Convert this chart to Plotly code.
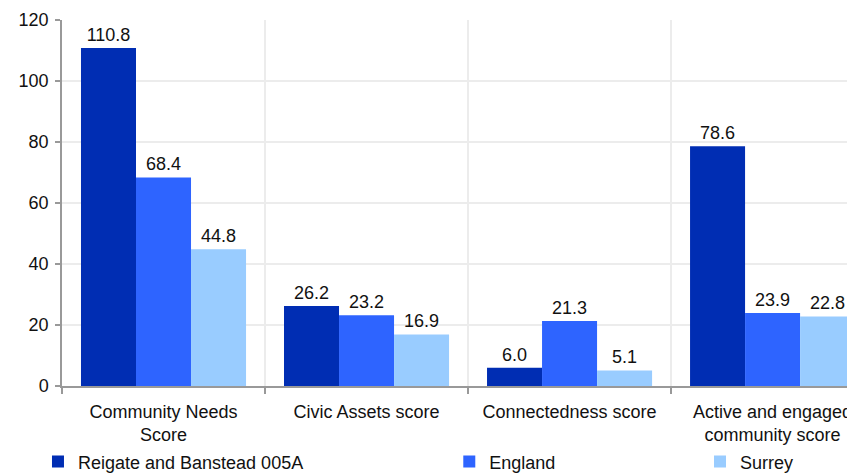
import plotly.graph_objects as go

categories = ["Community Needs<br>Score", "Civic Assets score", "Connectedness score", "Active and engaged<br>community score"]
series_names = ["Reigate and Banstead 005A", "England", "Surrey"]
reigate = [110.8, 26.2, 6.0, 78.6]
england = [68.4, 23.2, 21.3, 23.9]
surrey = [44.8, 16.9, 5.1, 22.8]
colors = ["#002db3", "#2e64ff", "#99ccff"]
y_ticks = [0, 20, 40, 60, 80, 100, 120]

FONT = "Liberation Sans, Arial, sans-serif"
FS = 18

fig = go.Figure()
legend_ids = ["legend", "legend2", "legend3"]
for name, vals, col, lg in zip(series_names, [reigate, england, surrey], colors, legend_ids):
    fig.add_trace(go.Bar(
        x=categories, y=vals, name=name, marker=dict(color=col, line=dict(width=0)),
        text=vals, texttemplate="%{y:.1f}", textposition="outside",
        textfont=dict(family=FONT, size=FS, color="#111"), cliponaxis=False,
        legend=lg, showlegend=True,
    ))

leg_common = dict(orientation="h", xref="container", yref="container", yanchor="middle", y=0.024,
                  xanchor="left", font=dict(family=FONT, size=FS, color="#111"),
                  bgcolor="rgba(0,0,0,0)")
fig.update_layout(
    width=847, height=465,
    margin=dict(l=54, r=0, t=12, b=87),
    paper_bgcolor="white", plot_bgcolor="white",
    showlegend=True,
    barmode="group", bargap=0.187, bargroupgap=0,
    font=dict(family=FONT, size=FS, color="#111"),
    legend=dict(x=0.0354, **leg_common),
    legend2=dict(x=0.521, **leg_common),
    legend3=dict(x=0.817, **leg_common),
    xaxis=dict(
        range=[-0.5, 3.406], tickson="boundaries", showgrid=True, gridcolor="#ececec", gridwidth=1.5,
        ticks="outside", ticklen=6, tickcolor="#999", tickwidth=1.5, ticklabelstandoff=8,
        showline=True, linecolor="#999", linewidth=2, automargin=False,
        tickfont=dict(family=FONT, size=FS, color="#111"),
    ),
    yaxis=dict(
        range=[0, 120], tickvals=y_ticks, showgrid=True, gridcolor="#ececec", gridwidth=1.5,
        ticks="outside", ticklen=5, tickcolor="#999", tickwidth=1.5, ticklabelstandoff=3,
        showline=True, linecolor="#999", linewidth=1.5, zeroline=False, automargin=False,
        tickfont=dict(family=FONT, size=FS, color="#111"),
    ),
)
fig.write_html("out.html")
